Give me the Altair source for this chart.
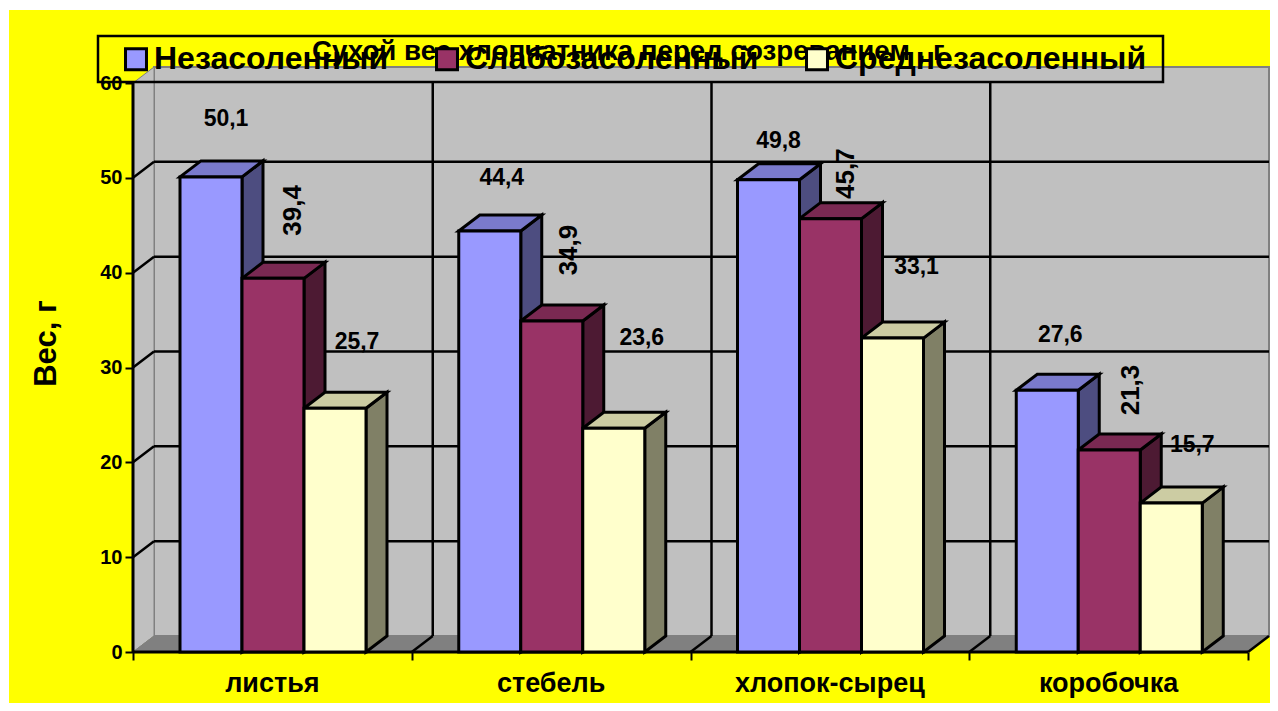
import altair as alt
import pandas as pd

categories = ["листья", "стебель", "хлопок-сырец", "коробочка"]
series = ["Незасоленный", "Слабозасоленный", "Среднезасоленный"]
values_a = [50.1, 44.4, 49.8, 27.6]
values_b = [39.4, 34.9, 45.7, 21.3]
values_c = [25.7, 23.6, 33.1, 15.7]
y_ticks = [0, 10, 20, 30, 40, 50, 60]
front_colors = ["#9999FF", "#993366", "#FFFFCC"]
top_colors = ["#7A7ACC", "#7A2952", "#CCCCA3"]
side_colors = ["#4D4D80", "#4D1A33", "#808066"]
title_text = "Сухой вес хлопчатника перед созреванием , г"
y_title = "Вес, г"
rotated = [False, True, False, False, True, False, False, True, False, False, True, False]
# label displacement from the bar's top centre, pixels (right, up)
nudge_x = [15, 20, 22, 12, 17, 28, 10, 15, 24, 13, 22, 21]
nudge_y = [58, 68, 66, 53, 71, 90, 39, 45, 71, 55, 60, 58]

FONT = "Liberation Sans"
SLOT_PX = 278.75
UNIT_PX = 9.483
PLOT_W, PLOT_H = 1136, 585
DX = 21 / SLOT_PX
DY = 16 / UNIT_PX
GROUP_LEFT = 47 / SLOT_PX
BAR_W = 62 / SLOT_PX
N = len(categories)
all_values = [values_a, values_b, values_c]

X = alt.X("x:Q", scale=alt.Scale(domain=[0, PLOT_W / SLOT_PX], nice=False, zero=False),
          title=None,
          axis=alt.Axis(values=list(range(N + 1)), labels=False, domain=False, grid=False,
                        ticks=True, tickSize=8, tickWidth=2, tickColor="black", zindex=1, title=None))
Y = alt.Y("y:Q", scale=alt.Scale(domain=[0, PLOT_H / UNIT_PX], nice=False),
          axis=alt.Axis(values=y_ticks, domain=False, grid=False, tickSize=8, tickWidth=2,
                        tickColor="black", labelFont=FONT, labelFontSize=20, labelFontWeight="bold",
                        labelColor="black", labelPadding=3, zindex=1, title=y_title,
                        titleFont=FONT, titleFontSize=31, titleFontWeight="bold", titleColor="black",
                        titleX=-71, titleY=276))
Y2 = alt.Y2("y2:Q")
X2 = alt.X2("x2:Q")

# faces of the bars
faces = []
fronts = []
labels = []
i = 0
for k in range(N):
    for s in range(len(series)):
        v = all_values[s][k]
        xl = k + GROUP_LEFT + s * BAR_W
        xr = xl + BAR_W
        fronts.append({"x": xl, "x2": xr, "y": v, "y2": 0, "series": series[s]})
        fid = f"{s}-{k}"
        faces += [
            {"x": xr, "y": v, "y2": 0, "face": "a" + fid, "fill": side_colors[s], "o": s},
            {"x": xr + DX, "y": v + DY, "y2": DY, "face": "a" + fid, "fill": side_colors[s], "o": s},
            {"x": xl, "y": v, "y2": v, "face": "b" + fid, "fill": top_colors[s], "o": s},
            {"x": xl + DX, "y": v + DY, "y2": v, "face": "b" + fid, "fill": top_colors[s], "o": s},
            {"x": xr, "y": v + DY, "y2": v, "face": "b" + fid, "fill": top_colors[s], "o": s},
            {"x": xr + DX, "y": v + DY, "y2": v + DY, "face": "b" + fid, "fill": top_colors[s], "o": s},
        ]
        labels.append({"x": (xl + xr) / 2 + nudge_x[i] / SLOT_PX,
                       "y": v + nudge_y[i] / UNIT_PX,
                       "t": str(v).replace(".", ","), "rot": rotated[i]})
        i += 1
faces_df = pd.DataFrame(faces)
labels_df = pd.DataFrame(labels)

yellow = alt.Chart(pd.DataFrame({"a": [0]})).mark_rect(fill="#FFFF00").encode(
    x=alt.value(-124), x2=alt.value(1137), y=alt.value(-57), y2=alt.value(636))

back = alt.Chart(pd.DataFrame({"x": [DX, N + DX], "y": [60 + DY] * 2, "y2": [DY] * 2})).mark_area(
    fill="#C0C0C0", stroke="#808080", strokeWidth=2).encode(x=X, y=Y, y2=Y2)
left = alt.Chart(pd.DataFrame({"x": [0, DX], "y": [60, 60 + DY], "y2": [0, DY]})).mark_area(
    fill="#C0C0C0", stroke="#808080", strokeWidth=1).encode(x=X, y=Y, y2=Y2)
floor = alt.Chart(pd.DataFrame({"x": [0, DX, N, N + DX],
                                "y": [0, DY, DY, DY], "y2": [0, 0, 0, DY]})).mark_area(
    fill="#808080", stroke="#808080", strokeWidth=1).encode(x=X, y=Y, y2=Y2)

h_grid = alt.Chart(pd.DataFrame({"x": DX, "x2": N + DX, "y": [t + DY for t in y_ticks[1:-1]]})).mark_rule(
    color="black", strokeWidth=2.5).encode(x=X, x2=X2, y=Y)
v_grid = alt.Chart(pd.DataFrame({"x": [k + DX for k in range(1, N)], "y": 60, "y2": DY})).mark_rule(
    color="black", strokeWidth=2.5).encode(x=X, y=Y, y2=Y2)

diag = []
for t in y_ticks[1:-1]:
    diag += [{"x": 0, "y": t, "d": f"w{t}"}, {"x": DX, "y": t + DY, "d": f"w{t}"}]
for k in range(1, N + 1):
    diag += [{"x": k, "y": 0, "d": f"f{k}"}, {"x": k + DX, "y": DY, "d": f"f{k}"}]
diagonals = alt.Chart(pd.DataFrame(diag)).mark_line(color="black", strokeWidth=2.5).encode(
    x=X, y=Y, detail="d:N")

axis_y = alt.Chart(pd.DataFrame({"x": [0], "y": [60], "y2": [0]})).mark_rule(
    color="black", strokeWidth=3).encode(x=X, y=Y, y2=Y2)
axis_x = alt.Chart(pd.DataFrame({"x": [0], "x2": [N], "y": [0]})).mark_rule(
    color="black", strokeWidth=3).encode(x=X, x2=X2, y=Y)

poly = alt.Chart(faces_df).mark_area(stroke="black", strokeWidth=3).encode(
    x=X, y=Y, y2=Y2, fill=alt.Fill("fill:N", scale=None), detail="face:N")

bars = alt.Chart(pd.DataFrame(fronts)).mark_bar(stroke="black", strokeWidth=3).encode(
    x=X, x2=X2, y=Y, y2=Y2,
    color=alt.Color("series:N", scale=alt.Scale(domain=series, range=front_colors),
                    legend=alt.Legend(title=None, orient="none", direction="horizontal", columns=3,
                                      legendX=-13, legendY=-24, padding=0,
                                      symbolType="square", symbolSize=440, symbolStrokeColor="black",
                                      symbolStrokeWidth=3, symbolOpacity=1, labelFont=FONT,
                                      labelFontSize=32, labelFontWeight="bold", labelColor="black",
                                      labelOffset=2, columnPadding=41, labelLimit=400)))

text_h = alt.Chart(labels_df[~labels_df.rot]).mark_text(
    font=FONT, fontSize=23, fontWeight="bold", color="black", baseline="middle", align="center"
).encode(x=X, y=Y, text="t:N")
text_v = alt.Chart(labels_df[labels_df.rot]).mark_text(
    font=FONT, fontSize=26, fontWeight="bold", color="black", baseline="middle", align="center", angle=270
).encode(x=X, y=Y, text="t:N")

cat_text = alt.Chart(pd.DataFrame({"x": [k + 0.5 for k in range(N)], "t": categories})).mark_text(
    font=FONT, fontSize=27, fontWeight="bold", color="black", baseline="middle", align="center"
).encode(x=X, y=alt.value(617), text="t:N")

title_mark = alt.Chart(pd.DataFrame({"t": [title_text]})).mark_text(
    font=FONT, fontSize=27.7, fontWeight="bold", color="black", baseline="middle", align="left"
).encode(x=alt.value(179), y=alt.value(-15), text="t:N")

legend_box = alt.Chart(pd.DataFrame({"a": [0]})).mark_rect(
    fill="transparent", stroke="black", strokeWidth=2.5).encode(
    x=alt.value(-35), x2=alt.value(1030), y=alt.value(-31), y2=alt.value(15))

chart = alt.layer(
    yellow, back, left, floor, h_grid, v_grid, diagonals, axis_y, axis_x,
    poly, bars, text_h, text_v, cat_text, title_mark, legend_box
).properties(
    width=PLOT_W, height=PLOT_H,
    padding={"left": 125, "top": 59, "right": 1, "bottom": 51},
    autosize=alt.AutoSizeParams(type="none"),
    background="white",
).configure_view(stroke=None)

chart.save("out.html", embed_options={"renderer": "svg", "actions": False})
